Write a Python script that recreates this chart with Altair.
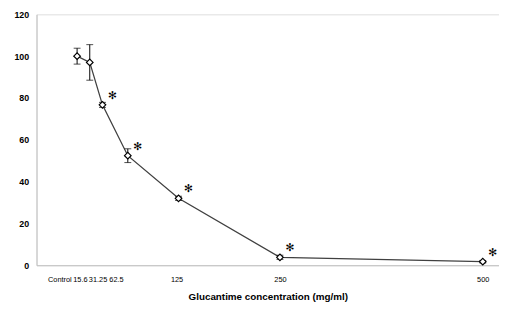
import altair as alt
import pandas as pd

conc = [0, 15.6, 31.25, 62.5, 125, 250, 500]
viability = [100, 97, 76.7, 52.4, 32, 3.8, 1.7]
err = [3.8, 8.5, 1.2, 3.3, 1.0, 1.0, 0.6]
signif = ["", "", "✻", "✻", "✻", "✻", "✻"]

df = pd.DataFrame({"conc": conc, "v": viability, "err": err, "sig": signif})
df["lo"] = df["v"] - df["err"]
df["hi"] = df["v"] + df["err"]

font = "Liberation Sans"
label_shift = {"condition": [
    {"test": "datum.value == 0", "value": -18},
    {"test": "datum.value == 15.6", "value": -10},
    {"test": "datum.value == 31.25", "value": -5},
    {"test": "datum.value == 62.5", "value": -12},
    {"test": "datum.value == 125", "value": -2},
], "value": 0}

x = alt.X("conc:Q", scale=alt.Scale(domain=[-50, 520], nice=False, zero=False),
          axis=alt.Axis(values=conc, labelExpr="datum.value == 0 ? 'Control' : '' + datum.value",
                        title="Glucantime concentration (mg/ml)",
                        grid=False, ticks=False, domainColor="#bfbfbf", labelOverlap=False,
                        labelFont=font, labelFontSize=7.5, labelColor="black",
                        labelPadding=11, labelOffset=label_shift,
                        titleFont=font, titleFontSize=10, titleFontWeight="bold",
                        titleColor="black", titlePadding=8))
y = alt.Y("v:Q", scale=alt.Scale(domain=[0, 120], nice=False),
          axis=alt.Axis(values=[0, 20, 40, 60, 80, 100, 120], title=None, grid=False, ticks=False,
                        domainColor="#bfbfbf", labelFont=font, labelFontSize=9,
                        labelFontWeight="bold", labelColor="black", labelPadding=8))

base = alt.Chart(df)
line = base.mark_line(color="#404040", strokeWidth=1.3).encode(x=x, y=y)
eb = base.mark_errorbar(ticks=alt.MarkConfig(size=7, color="black"), color="black", thickness=1).encode(
    x=x, y=alt.Y("lo:Q"), y2="hi:Q")
pts = base.mark_point(shape="diamond", size=45, filled=True, fill="white", stroke="black",
                      strokeWidth=1.2, opacity=1).encode(x=x, y=y)
stars = base.mark_text(font="DejaVu Sans", fontSize=11, dx=10, dy=-9, fill="black").encode(
    x=x, y=y, text="sig:N")

chart = alt.layer(line, eb, pts, stars).properties(
    width=470, height=255, autosize=alt.AutoSizeParams(type="none"),
    padding={"left": 29, "top": 4, "right": 0, "bottom": 40}
).configure_view(stroke=None).configure(background="white")

chart.save("out.html", embed_options={"renderer": "svg", "actions": False})
